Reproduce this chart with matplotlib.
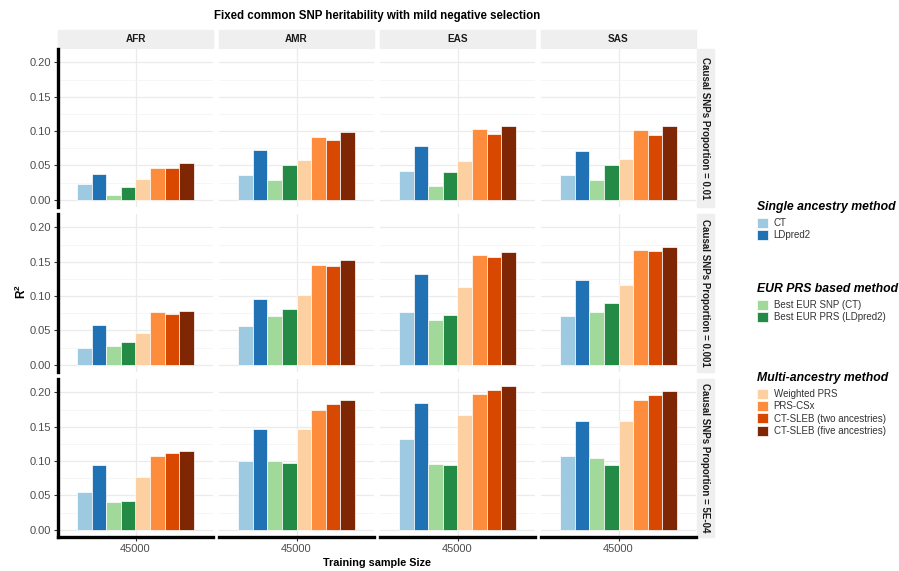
import matplotlib

matplotlib.use("Agg")
import matplotlib.pyplot as plt
import numpy as np
from matplotlib.patches import Rectangle

plt.rcParams["font.family"] = ["Liberation Sans", "DejaVu Sans"]
plt.rcParams["mathtext.fontset"] = "custom"
plt.rcParams["mathtext.rm"] = "Liberation Sans"
plt.rcParams["mathtext.bf"] = "Liberation Sans:bold"

# ==================== Data ====================
ANCESTRIES = ["AFR", "AMR", "EAS", "SAS"]
ROW_LABELS = [
    "Causal SNPs Proportion = 0.01",
    "Causal SNPs Proportion = 0.001",
    "Causal SNPs Proportion = 5E-04",
]
SAMPLE_SIZE = "45000"
METHODS = [
    "CT",
    "LDpred2",
    "Best EUR SNP (CT)",
    "Best EUR PRS (LDpred2)",
    "Weighted PRS",
    "PRS-CSx",
    "CT-SLEB (two ancestries)",
    "CT-SLEB (five ancestries)",
]
COLORS = ["#9ECAE1", "#2171B5", "#A1D99B", "#238B45",
          "#FDD0A2", "#FD8D3C", "#D94801", "#7F2704"]
GROUPS = [
    ("Single ancestry method", 0, 2),
    ("EUR PRS based method", 2, 4),
    ("Multi-ancestry method", 4, 8),
]

# one list per ancestry, methods in METHODS order
R2_PROP_01 = [
    [0.0233, 0.0374, 0.0068, 0.0184, 0.0296, 0.0461, 0.0461, 0.0539],
    [0.0354, 0.0728, 0.0290, 0.0510, 0.0578, 0.0917, 0.0869, 0.0990],
    [0.0422, 0.0777, 0.0204, 0.0403, 0.0563, 0.1024, 0.0951, 0.1068],
    [0.0364, 0.0704, 0.0286, 0.0500, 0.0597, 0.1010, 0.0947, 0.1078],
]
R2_PROP_001 = [
    [0.0243, 0.0583, 0.0272, 0.0325, 0.0466, 0.0762, 0.0738, 0.0777],
    [0.0563, 0.0956, 0.0704, 0.0811, 0.1015, 0.1451, 0.1442, 0.1519],
    [0.0767, 0.1320, 0.0650, 0.0718, 0.1136, 0.1592, 0.1563, 0.1636],
    [0.0714, 0.1238, 0.0762, 0.0893, 0.1165, 0.1670, 0.1650, 0.1718],
]
R2_PROP_5E4 = [
    [0.0543, 0.0947, 0.0404, 0.0423, 0.0774, 0.1080, 0.1115, 0.1149],
    [0.0995, 0.1460, 0.0995, 0.0966, 0.1460, 0.1750, 0.1837, 0.1890],
    [0.1327, 0.1840, 0.0952, 0.0942, 0.1678, 0.1980, 0.2038, 0.2090],
    [0.1080, 0.1580, 0.1043, 0.0942, 0.1577, 0.1890, 0.1966, 0.2014],
]
ROWS = [R2_PROP_01, R2_PROP_001, R2_PROP_5E4]

# ==================== Layout (pixels) ====================
W, H = 899, 571
COL_X = [58, 219, 380, 541]
ROW_Y = [49, 214, 379]
PW, PH = 155, 158
STRIP_H = 18
STRIP_W = 17
STRIP_COLOR = "#EFEFEF"
LEGEND_X = 757


def px(x, y, w, h):
    return [x / W, 1 - (y + h) / H, w / W, h / H]


fig = plt.figure(figsize=(W / 100, H / 100), dpi=100)

n = len(METHODS)
xpos = 1 + (np.arange(n) - (n - 1) / 2) * (0.9 / n)
bar_handles = None

for r, row_vals in enumerate(ROWS):
    for c, anc in enumerate(ANCESTRIES):
        ax = fig.add_axes(px(COL_X[c], ROW_Y[r], PW, PH))
        bars = ax.bar(xpos, row_vals[c], width=0.9 / n, color=COLORS,
                      edgecolor="white", linewidth=0.5, zorder=3)
        if bar_handles is None:
            bar_handles = list(bars.patches)
        ax.set_xlim(0.4, 1.6)
        ax.set_ylim(-0.0105, 0.2195)
        ax.set_yticks(np.arange(0, 0.201, 0.05))
        ax.set_yticks(np.arange(0.025, 0.22, 0.05), minor=True)
        ax.set_xticks([1])
        ax.set_xticklabels([SAMPLE_SIZE])
        ax.set_yticklabels([f"{v:.2f}" for v in np.arange(0, 0.201, 0.05)])
        ax.grid(True, which="major", color="#EBEBEB", linewidth=0.9, zorder=0)
        ax.grid(True, which="minor", axis="y", color="#F3F3F3", linewidth=0.5, zorder=0)
        ax.tick_params(axis="both", which="minor", length=0)
        ax.tick_params(axis="both", which="major", labelsize=8, labelcolor="#4D4D4D",
                       color="#333333", length=3, width=0.8, pad=2)
        for s in ax.spines.values():
            s.set_visible(False)
        if c == 0:
            ax.spines["left"].set_visible(True)
            ax.spines["left"].set_linewidth(2.4)
            ax.spines["left"].set_color("black")
        else:
            ax.tick_params(axis="y", length=0, labelleft=False)
        if r == len(ROWS) - 1:
            ax.spines["bottom"].set_visible(True)
            ax.spines["bottom"].set_linewidth(2.4)
            ax.spines["bottom"].set_color("black")
        else:
            ax.tick_params(axis="x", length=0, labelbottom=False)

        # top strips
        if r == 0:
            fig.add_artist(Rectangle((COL_X[c] / W, 1 - (ROW_Y[0] - 1) / H), PW / W, STRIP_H / H,
                                     transform=fig.transFigure, color=STRIP_COLOR, zorder=0))
            fig.text((COL_X[c] + PW / 2) / W, 1 - (ROW_Y[0] - 1 - STRIP_H / 2) / H, anc,
                     ha="center", va="center", fontsize=7.2, fontweight="bold", color="#1A1A1A")

    # right strips
    sx = COL_X[-1] + PW + 1
    fig.add_artist(Rectangle((sx / W, 1 - (ROW_Y[r] + PH) / H), STRIP_W / W, PH / H,
                             transform=fig.transFigure, color=STRIP_COLOR, zorder=0))
    fig.text((sx + STRIP_W / 2) / W, 1 - (ROW_Y[r] + PH / 2) / H, ROW_LABELS[r],
             ha="center", va="center", rotation=-90, fontsize=7, fontweight="bold",
             color="#1A1A1A")

fig.text(377 / W, 1 - 16 / H, "Fixed common SNP heritability with mild negative selection",
         ha="center", va="center", fontsize=8.3, fontweight="bold")
fig.text(377 / W, 1 - 563 / H, "Training sample Size", ha="center", va="center",
         fontsize=7.8, fontweight="bold")
fig.text(21 / W, 1 - 292 / H, r"$\mathbf{R^2}$", ha="center", va="center",
         rotation=90, fontsize=8.5)

title_y = [207, 289, 378]
for (title, i0, i1), ty in zip(GROUPS, title_y):
    fig.text(LEGEND_X / W, 1 - ty / H, title, ha="left", va="center", fontsize=8.8,
             fontweight="bold", fontstyle="italic", color="black")
    leg = fig.legend(bar_handles[i0:i1], METHODS[i0:i1], loc="upper left",
                     bbox_to_anchor=(LEGEND_X / W, 1 - (ty + 11) / H), frameon=False,
                     borderpad=0, borderaxespad=0, handlelength=1.1, handleheight=1.2,
                     handletextpad=0.6, labelspacing=0.2, fontsize=7)
    for t in leg.get_texts():
        t.set_color("#333333")

fig.savefig("out.png", dpi=100)
